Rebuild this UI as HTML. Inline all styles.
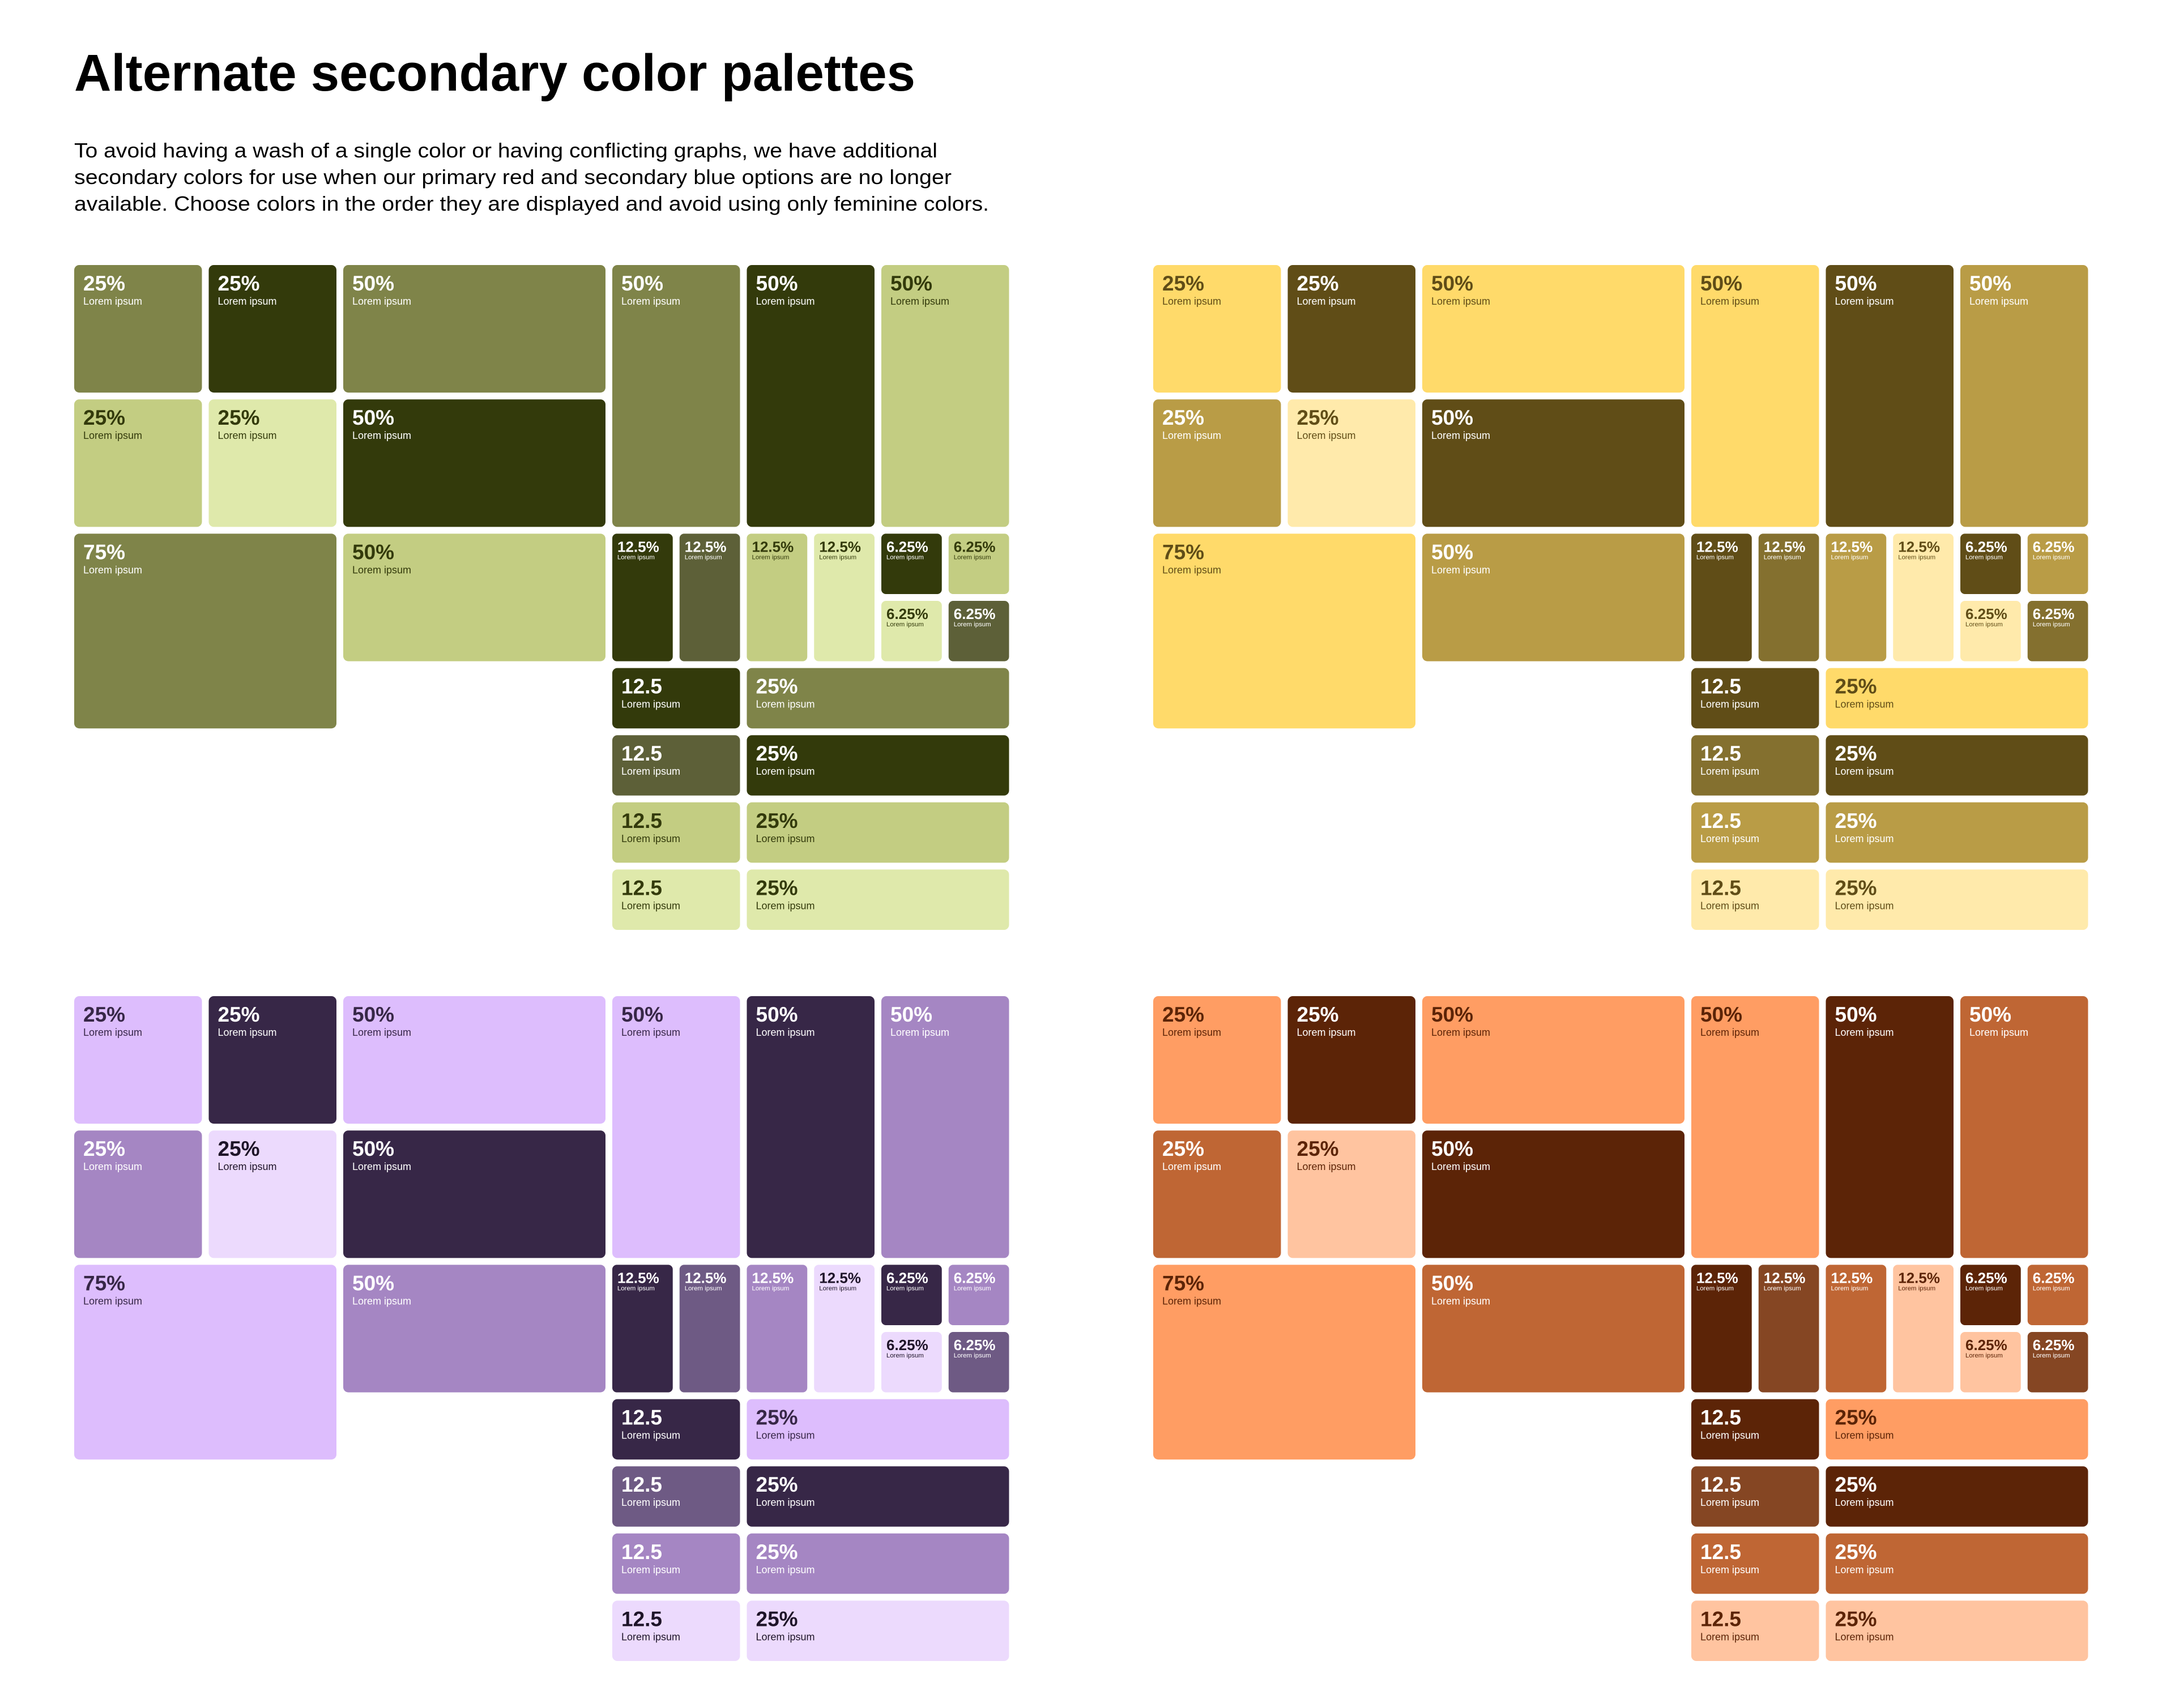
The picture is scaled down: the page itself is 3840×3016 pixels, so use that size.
<!DOCTYPE html>
<html><head><meta charset="utf-8"><style>
html,body{margin:0;padding:0;background:#fff;}
svg{display:block;}
text{font-family:"Liberation Sans",sans-serif;}
</style></head><body>
<svg id="page" width="3840" height="3016" viewBox="0 0 3840 3016" xmlns="http://www.w3.org/2000/svg">
<rect width="3840" height="3016" fill="#fff"/>
<text x="131" y="160" font-size="92" font-weight="bold" fill="#000" textLength="1485" lengthAdjust="spacingAndGlyphs">Alternate secondary color palettes</text>
<g font-size="36" fill="#000">
<text x="131" y="278" textLength="1524" lengthAdjust="spacingAndGlyphs">To avoid having a wash of a single color or having conflicting graphs, we have additional</text>
<text x="131" y="325" textLength="1549" lengthAdjust="spacingAndGlyphs">secondary colors for use when our primary red and secondary blue options are no longer</text>
<text x="131" y="372" textLength="1615" lengthAdjust="spacingAndGlyphs">available. Choose colors in the order they are displayed and avoid using only feminine colors.</text>
</g>
<g id="charts"></g>
</svg>
<script>
// palette names and origins
const paletteNames = ['olive', 'yellow', 'purple', 'orange'];
// role colours per palette: A, B, C, D, E
const fillsOlive = ['#7f8449', '#333a0b', '#c3cd82', '#dfe9ab', '#5d6038'];
const fillsYellow = ['#ffda6a', '#604d17', '#b99c46', '#ffeaab', '#84702f'];
const fillsPurple = ['#ddbdfd', '#372747', '#a586c3', '#ecdafd', '#6e5a84'];
const fillsOrange = ['#ff9d63', '#5c2407', '#bf6634', '#ffc4a0', '#854623'];
// label values per cell
const cellLabels = ['25%','25%','50%','25%','25%','50%','75%','50%','50%','50%','50%',
  '12.5%','12.5%','12.5%','12.5%','6.25%','6.25%','6.25%','6.25%',
  '12.5','25%','12.5','25%','12.5','25%','12.5','25%'];
// colour role per cell (index into fills)
const cellRoles = [0,1,0,2,3,1,0,2,0,1,2, 1,4,2,3,1,2,3,4, 1,0,4,1,2,2,3,3];
// grid placement in half-column / half-row units: col,row,colspan,rowspan
const cellCols = [0,2,4,0,2,4,0,4,8,10,12, 8,9,10,11,12,13,12,13, 8,10,8,10,8,10,8,10];
const cellRows = [0,0,0,2,2,2,4,4,0,0,0, 4,4,4,4,4,4,5,5, 6,6,7,7,8,8,9,9];
const cellColSpans = [2,2,4,2,2,4,4,4,2,2,2, 1,1,1,1,1,1,1,1, 2,4,2,4,2,4,2,4];
const cellRowSpans = [2,2,2,2,2,2,3,2,4,4,4, 2,2,2,2,1,1,1,1, 1,1,1,1,1,1,1,1];

const palettes = [fillsOlive, fillsYellow, fillsPurple, fillsOrange];
const origins = [[131,468],[2036,468],[131,1759],[2036,1759]];
const darkText = [['#fff','#fff','#333a0b','#333a0b','#fff'],
                  ['#604d17','#fff','#fff','#604d17','#fff'],
                  ['#372747','#fff','#fff','#1e1428','#fff'],
                  ['#5c2407','#fff','#fff','#5c2407','#fff']];
const HX = 118.75, HY = 118.6, GAP = 12;
function xs(c){return c*HX;}
function ys(r){return r*HY;}
const NS='http://www.w3.org/2000/svg';
const root=document.getElementById('charts');
palettes.forEach((fills,p)=>{
  const g=document.createElementNS(NS,'g');
  
  
  g.setAttribute('transform','translate('+origins[p][0]+','+origins[p][1]+')');
  root.appendChild(g);
  cellLabels.forEach((lab,i)=>{
    const x=xs(cellCols[i]), y=ys(cellRows[i]);
    const w=xs(cellColSpans[i])-GAP, h=ys(cellRowSpans[i])-GAP;
    const small = cellColSpans[i]===1;
    const cg=document.createElementNS(NS,'g');
    
    
    const r=document.createElementNS(NS,'rect');
    
    
    r.setAttribute('x',x);r.setAttribute('y',y);r.setAttribute('width',w);r.setAttribute('height',h);
    r.setAttribute('rx',small?8:9);r.setAttribute('fill',fills[cellRoles[i]]);
    cg.appendChild(r);
    const col=darkText[p][cellRoles[i]];
    const t=document.createElementNS(NS,'text');
    
    
    t.setAttribute('x',x+(small?9:16));t.setAttribute('y',y+(small?32:45));
    t.setAttribute('font-size',small?26:37);t.setAttribute('font-weight','bold');t.setAttribute('fill',col);
    t.textContent=lab;cg.appendChild(t);
    const s=document.createElementNS(NS,'text');
    
    
    s.setAttribute('x',x+(small?9:16));s.setAttribute('y',y+(small?45:70));
    s.setAttribute('font-size',small?11.4:18);s.setAttribute('fill',col);
    s.textContent='Lorem ipsum';cg.appendChild(s);
    g.appendChild(cg);
  });
});
</script>
</body></html>
